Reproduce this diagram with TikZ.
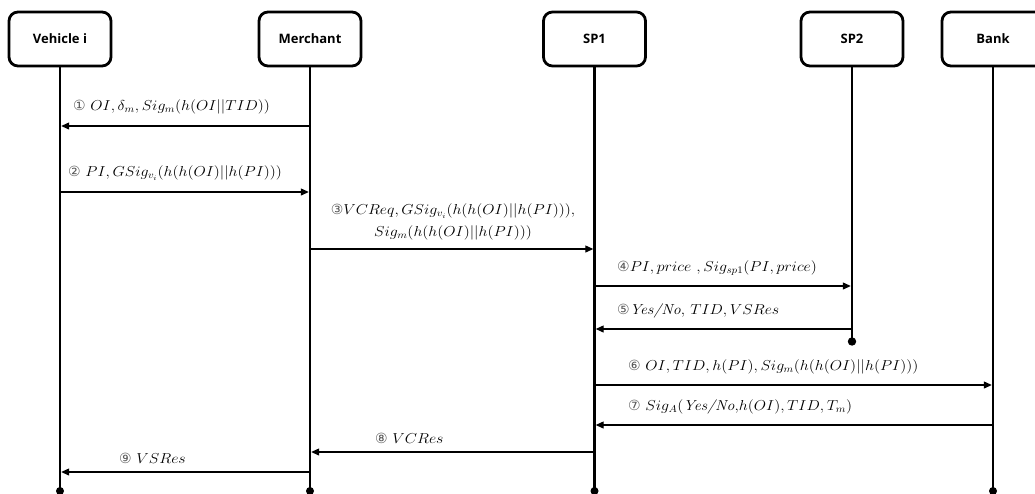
\documentclass[tikz,border=0pt]{standalone}
\usepackage{fontspec}
\usepackage{graphicx}
\usetikzlibrary{arrows.meta}
\newfontfamily\hdrfont{Open Sans}
\newfontfamily\circfont{DejaVu Sans}
\newcommand{\cnum}[1]{{\circfont\fontsize{14}{16}\selectfont\color{black!65}#1}}
\newcommand{\lx}[1]{\scalebox{1.1}[1]{#1}}
\begin{document}
\begin{tikzpicture}[x=1pt,y=-1pt,
  actor/.style={draw,line width=2.8pt,rounded corners=9pt,minimum width=102pt,minimum height=54pt,inner sep=0pt,font=\hdrfont\bfseries\fontsize{13}{15}\selectfont},
  life/.style={line width=2.5pt},
  msg/.style={line width=1.2pt,shorten >=1.2pt,-{Triangle[length=8pt,width=7pt]}},
  lbl/.style={anchor=west,inner sep=0pt,font=\fontsize{14.4}{17}\selectfont},
  enddot/.style={fill=black}]
\useasboundingbox (0,0) rectangle (1035,493);
% actors
\node[actor] (veh) at (60,39) {Vehicle i};
\node[actor] (mer) at (310,39) {Merchant};
\node[actor] (sp1) at (594.5,39) {SP1};
\node[actor] (sp2) at (852,39) {SP2};
\node[actor] (bank) at (993,39) {Bank};
% lifeline ends
\coordinate (vehE) at (60,491);
\coordinate (merE) at (310,491);
\coordinate (sp1E) at (594.5,491);
\coordinate (sp2E) at (852,341.5);
\coordinate (bankE) at (993,491);
\draw[life] (veh.south) -- (vehE);
\draw[life] (mer.south) -- (merE);
\draw[life] (sp1.south) -- (sp1E);
\draw[life] (sp2.south) -- (sp2E);
\draw[life] (bank.south) -- (bankE);
\fill[enddot] (vehE) circle (4pt);
\fill[enddot] (merE) circle (4pt);
\fill[enddot] (sp1E) circle (4pt);
\fill[enddot] (sp2E) circle (4.2pt);
\fill[enddot] (bankE) circle (4pt);
% message heights
\coordinate (y1) at (0,126);
\coordinate (y2) at (0,192);
\coordinate (y3) at (0,249);
\coordinate (y4) at (0,286);
\coordinate (y5) at (0,329);
\coordinate (y6) at (0,385);
\coordinate (y7) at (0,425);
\coordinate (y8) at (0,452);
\coordinate (y9) at (0,472);
% messages
\draw[msg] (mer |- y1) -- (veh |- y1);
\draw[msg] (veh |- y2) -- (mer |- y2);
\draw[msg] (mer |- y3) -- (sp1 |- y3);
\draw[msg] (sp1 |- y4) -- (sp2 |- y4);
\draw[msg] (sp2 |- y5) -- (sp1 |- y5);
\draw[msg] (sp1 |- y6) -- (bank |- y6);
\draw[msg] (bank |- y7) -- (sp1 |- y7);
\draw[msg] (sp1 |- y8) -- (mer |- y8);
\draw[msg] (mer |- y9) -- (veh |- y9);
% labels
\node[lbl] (l1) at (73,107) {\cnum{①} \lx{$OI, \delta_m, Sig_m(h(OI||TID))$}};
\node[lbl] (l2) at (68,173) {\cnum{②} \lx{$PI, GSig_{v_i}(h(h(OI)||h(PI)))$}};
\node[lbl,anchor=center,align=center,font=\fontsize{14.4}{22}\selectfont] (l3) at (453,222) {\cnum{③}\lx{$VCReq, GSig_{v_i}(h(h(OI)||h(PI))),$}\\ \lx{$Sig_m(h(h(OI)||h(PI)))$}};
\node[lbl] (l4) at (617,268) {\cnum{④}\lx{$PI, price\ ,Sig_{sp1}(PI, price)$}};
\node[lbl] (l5) at (617,311) {\cnum{⑤}\lx{\textit{Yes/No}, $TID, VSRes$}};
\node[lbl] (l6) at (628,367) {\cnum{⑥} \lx{$OI, TID, h(PI), Sig_m(h(h(OI)||h(PI)))$}};
\node[lbl] (l7) at (628,407) {\cnum{⑦} \lx{$Sig_A($\textit{Yes/No},$h(OI), TID, T_m)$}};
\node[lbl] (l8) at (375,438) {\cnum{⑧} \lx{$VCRes$}};
\node[lbl] (l9) at (119,458) {\cnum{⑨} \lx{$VSRes$}};
\end{tikzpicture}
\end{document}
